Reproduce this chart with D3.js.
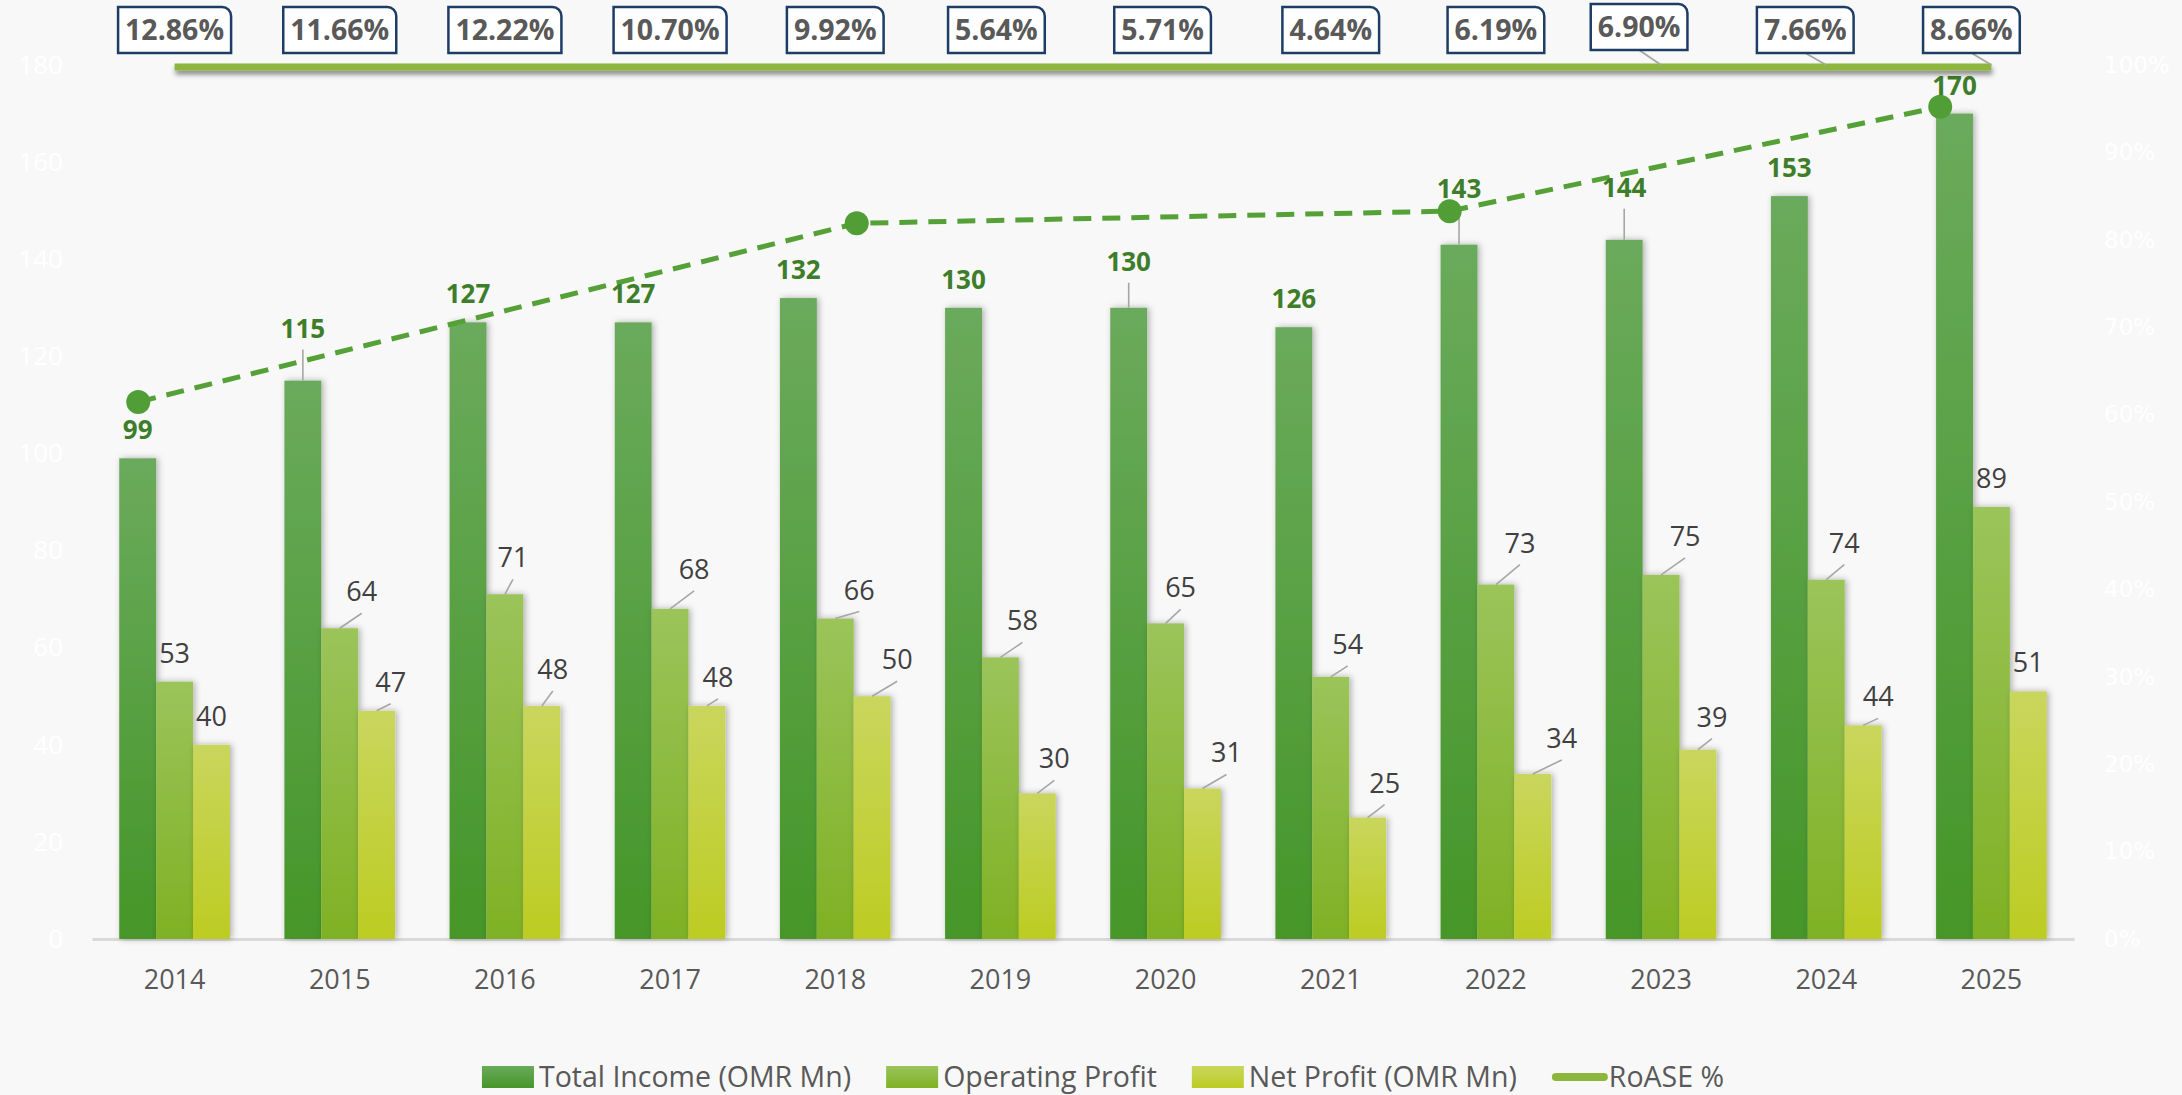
<!DOCTYPE html>
<html>
<head>
<meta charset="utf-8">
<script src="https://cdn.jsdelivr.net/npm/d3@7"></script>
<style>
  html, body { margin: 0; padding: 0; background: #f8f8f8; }
  svg { display: block; }
</style>
</head>
<body>
<div id="chart"></div>
<script>

// chart data
const YEARS = ["2014", "2015", "2016", "2017", "2018", "2019", "2020", "2021", "2022", "2023", "2024", "2025"];
const TOTAL_INCOME = [99, 115, 127, 127, 132, 130, 130, 126, 143, 144, 153, 170];
const OPERATING_PROFIT = [53, 64, 71, 68, 66, 58, 65, 54, 73, 75, 74, 89];
const NET_PROFIT = [40, 47, 48, 48, 50, 30, 31, 25, 34, 39, 44, 51];
// RoASE entered as whole percents, so it sits clipped on the top of the 0-100% axis
const ROASE = [12.86, 11.66, 12.22, 10.70, 9.92, 5.64, 5.71, 4.64, 6.19, 6.90, 7.66, 8.66];

const SERIES_NAMES = ["Total Income (OMR Mn)", "Operating Profit", "Net Profit (OMR Mn)"];
const LINE_NAME = "RoASE %";

const LEFT_TICKS = [0, 20, 40, 60, 80, 100, 120, 140, 160, 180];
const RIGHT_TICKS = [0, 0.1, 0.2, 0.3, 0.4, 0.5, 0.6, 0.7, 0.8, 0.9, 1];

// hand drawn dashed trend over the bars (category index, left axis value)
const TREND_POS = [-0.22, 4.13, 7.72, 10.69];
const TREND_VALUES = [110.6, 147.4, 149.9, 171.4];


// frame constants
const FRAME_WIDTH = 2182;
const FRAME_HEIGHT = 1095;
const PLOT = {left: 92, right: 2074, top: 65, bottom: 939};

const FRAME = d3.select("#chart")
                .append("svg")
                  .attr("width", FRAME_WIDTH)
                  .attr("height", FRAME_HEIGHT)
                  .style("background", "#f8f8f8");

const DEFS = FRAME.append("defs");

// gradients for the three bar series
const GRADIENTS = [["#6aaa5c", "#469628"], ["#9bc45a", "#7fb124"], ["#c9d65d", "#bdcc22"]];
GRADIENTS.forEach((g, i) => {
  const grad = DEFS.append("linearGradient")
                   .attr("id", "grad" + i)
                   .attr("x1", 0).attr("y1", 0).attr("x2", 0).attr("y2", 1);
  grad.append("stop").attr("offset", "0%").attr("stop-color", g[0]);
  grad.append("stop").attr("offset", "100%").attr("stop-color", g[1]);
});

DEFS.append("filter")
      .attr("id", "barShadow")
      .attr("x", "-30%").attr("y", "-5%").attr("width", "160%").attr("height", "110%")
    .append("feDropShadow")
      .attr("dx", 2).attr("dy", 0).attr("stdDeviation", 3)
      .attr("flood-color", "#000").attr("flood-opacity", 0.3);

// flat line has a zero height box, so the shadow region is given in page units
DEFS.append("filter")
      .attr("id", "lineShadow")
      .attr("filterUnits", "userSpaceOnUse")
      .attr("x", 0).attr("y", 0).attr("width", FRAME_WIDTH).attr("height", 200)
    .append("feDropShadow")
      .attr("dx", 1).attr("dy", 4).attr("stdDeviation", 2.5)
      .attr("flood-color", "#000").attr("flood-opacity", 0.45);


// scales
const X_SCALE = d3.scaleBand()
                  .domain(YEARS)
                  .range([PLOT.left, PLOT.right])
                  .paddingInner(0.33)
                  .paddingOuter(0.165);

const SERIES_SCALE = d3.scaleBand()
                       .domain([0, 1, 2])
                       .range([0, X_SCALE.bandwidth()]);

const Y_SCALE = d3.scaleLinear()
                  .domain([0, 180])
                  .range([PLOT.bottom, PLOT.top]);

const PCT_SCALE = d3.scaleLinear()
                    .domain([0, 1])
                    .range([PLOT.bottom, PLOT.top])
                    .clamp(true);

const center = (year) => X_SCALE(year) + X_SCALE.bandwidth() / 2;

const TREND_X = d3.scaleLinear()
                  .domain([0, YEARS.length - 1])
                  .range([center(YEARS[0]), center(YEARS[YEARS.length - 1])]);


// axes
const xAxis = FRAME.append("g")
      .attr("transform", "translate(0," + PLOT.bottom + ")")
      .call(d3.axisBottom(X_SCALE).tickSize(0).tickSizeOuter(0).tickPadding(31));
xAxis.select(".domain").attr("stroke", "#d9d9d9").attr("stroke-width", 3);
xAxis.selectAll("text")
      .attr("font-family", "Open Sans")
      .attr("font-size", "27px")
      .attr("fill", "#595959");

const yAxis = FRAME.append("g")
      .attr("transform", "translate(" + PLOT.left + ",0)")
      .call(d3.axisLeft(Y_SCALE).tickValues(LEFT_TICKS).tickSize(0).tickPadding(29));
yAxis.select(".domain").remove();
yAxis.selectAll("text")
      .attr("font-family", "Open Sans")
      .attr("font-size", "26px")
      .attr("fill", "#ffffff");

const rAxis = FRAME.append("g")
      .attr("transform", "translate(" + PLOT.right + ",0)")
      .call(d3.axisRight(PCT_SCALE).tickValues(RIGHT_TICKS).tickFormat(d3.format(".0%"))
              .tickSize(0).tickPadding(30));
rAxis.select(".domain").remove();
rAxis.selectAll("text")
      .attr("font-family", "DejaVu Sans")
      .attr("font-size", "23px")
      .attr("fill", "#ffffff");


// bars
const SERIES = [TOTAL_INCOME, OPERATING_PROFIT, NET_PROFIT];

SERIES.forEach((values, s) => {
  FRAME.append("g")
    .selectAll("rect")
    .data(values)
    .enter()
    .append("rect")
      .attr("x", (d, i) => X_SCALE(YEARS[i]) + SERIES_SCALE(s))
      .attr("y", (d) => Y_SCALE(d))
      .attr("width", SERIES_SCALE.bandwidth())
      .attr("height", (d) => PLOT.bottom - Y_SCALE(d))
      .attr("fill", "url(#grad" + s + ")")
      .attr("filter", "url(#barShadow)");
});


// data labels, nudged off the default spot where Excel moved them
const LABEL_NUDGE = [
  {dx: [0, 0, 0, 0, 0, 0, 0, 0, 0, 0, 0, 0],
   dy: [0, -24, 0, 0, 0, 0, -18, 0, -28, -24, 0, 0]},
  {dx: [0, 22, 8, 24, 24, 22, 15, 17, 24, 24, 18, 0],
   dy: [0, -8, -8, -11, 0, -8, -7, -4, -13, -10, -8, 0]},
  {dx: [0, 14, 11, 11, 25, 17, 24, 17, 29, 14, 15, 0],
   dy: [0, 0, -8, 0, -8, -6, -7, -6, -7, -4, 0, 0]}
];

const labelLayer = FRAME.append("g");
const leaderLayer = FRAME.append("g");

SERIES.forEach((values, s) => {
  values.forEach((v, i) => {
    const cx = X_SCALE(YEARS[i]) + SERIES_SCALE(s) + SERIES_SCALE.bandwidth() / 2;
    const top = Y_SCALE(v);
    const dx = LABEL_NUDGE[s].dx[i];
    const dy = LABEL_NUDGE[s].dy[i];
    const lx = cx + dx;
    const base = top - 19 + dy;

    if (dx !== 0 || dy !== 0) {
      leaderLayer.append("line")
        .attr("x1", cx).attr("y1", top)
        .attr("x2", lx).attr("y2", base + 12)
        .attr("stroke", "#a6a6a6")
        .attr("stroke-width", 1.6);
    }

    labelLayer.append("text")
      .attr("x", lx)
      .attr("y", base)
      .attr("text-anchor", "middle")
      .attr("font-family", "Open Sans")
      .attr("font-size", s === 0 ? "26px" : "27px")
      .attr("font-weight", s === 0 ? 700 : 400)
      .attr("fill", s === 0 ? "#3e7e2a" : "#404040")
      .text(v);
  });
});


// dashed trend and its dots
const trendPts = TREND_POS.map((p, i) => [TREND_X(p), Y_SCALE(TREND_VALUES[i])]);

FRAME.append("path")
  .datum(trendPts)
  .attr("d", d3.line())
  .attr("fill", "none")
  .attr("stroke", "#56a137")
  .attr("stroke-width", 5)
  .attr("stroke-dasharray", "18,11");

FRAME.append("g")
  .selectAll("circle")
  .data(trendPts)
  .enter()
  .append("circle")
    .attr("cx", (d) => d[0])
    .attr("cy", (d) => d[1])
    .attr("r", 12)
    .attr("fill", "#529e36");

// bring labels above trend
labelLayer.raise();


// RoASE line along the top
FRAME.append("path")
  .datum(ROASE)
  .attr("d", d3.line()
                .x((d, i) => center(YEARS[i]))
                .y((d) => PCT_SCALE(d) + 2))
  .attr("fill", "none")
  .attr("stroke", "#8cb63c")
  .attr("stroke-width", 7)
  .attr("filter", "url(#lineShadow)");


// RoASE callout boxes
const BOX_NUDGE = {dx: [0, 0, 0, 0, 0, -4, -3, 0, 0, -22, -21, -20],
                   dy: [0, 0, 0, 0, 0, 0, 0, 0, 0, -3, 0, 0]};
const BOX_TOP = 7;
const BOX_H = 46;
const BOX_R = 9;

ROASE.forEach((v, i) => {
  const cx = center(YEARS[i]) + BOX_NUDGE.dx[i];
  const y0 = BOX_TOP + BOX_NUDGE.dy[i];
  const g = FRAME.append("g");

  if (BOX_NUDGE.dx[i] < -10) {
    g.append("line")
      .attr("x1", cx).attr("y1", y0 + BOX_H)
      .attr("x2", center(YEARS[i])).attr("y2", PCT_SCALE(v))
      .attr("stroke", "#a6a6a6")
      .attr("stroke-width", 1.8);
  }

  const rect = g.append("path");
  const txt = g.append("text")
      .attr("x", cx)
      .attr("y", y0 + BOX_H / 2 + 10)
      .attr("text-anchor", "middle")
      .attr("font-family", "Open Sans")
      .attr("font-size", "28.5px")
      .attr("font-weight", 700)
      .attr("fill", "#595959")
      .text(v.toFixed(2) + "%");

  const w = txt.node().getComputedTextLength() + 14;
  const x0 = cx - w / 2;
  rect.attr("d", "M" + x0 + "," + y0 +
                 " H" + (x0 + w - BOX_R) +
                 " A" + BOX_R + "," + BOX_R + " 0 0 1 " + (x0 + w) + "," + (y0 + BOX_R) +
                 " V" + (y0 + BOX_H) + " H" + x0 + " Z")
      .attr("fill", "#ffffff")
      .attr("stroke", "#1d3d66")
      .attr("stroke-width", 2.5);
});


// legend
const LEGEND_Y = 1077;
const legend = FRAME.append("g");
let cursor = 0;

SERIES_NAMES.concat([LINE_NAME]).forEach((name, i) => {
  const g = legend.append("g");
  if (i < 3) {
    g.append("rect")
      .attr("x", cursor).attr("y", LEGEND_Y - 11)
      .attr("width", 52).attr("height", 22)
      .attr("fill", "url(#grad" + i + ")");
  } else {
    g.append("line")
      .attr("x1", cursor + 4).attr("x2", cursor + 52)
      .attr("y1", LEGEND_Y).attr("y2", LEGEND_Y)
      .attr("stroke", "#8cb63c")
      .attr("stroke-width", 8)
      .attr("stroke-linecap", "round");
  }
  const t = g.append("text")
      .attr("x", cursor + 57)
      .attr("y", LEGEND_Y + 10)
      .attr("font-family", "Open Sans")
      .attr("font-size", "28.5px")
      .attr("fill", "#595959")
      .text(name);
  cursor += 57 + t.node().getComputedTextLength() + 35;
});

const legendWidth = cursor - 35;
legend.attr("transform", "translate(" + (1103 - legendWidth / 2) + ",0)");

</script>
</body>
</html>
